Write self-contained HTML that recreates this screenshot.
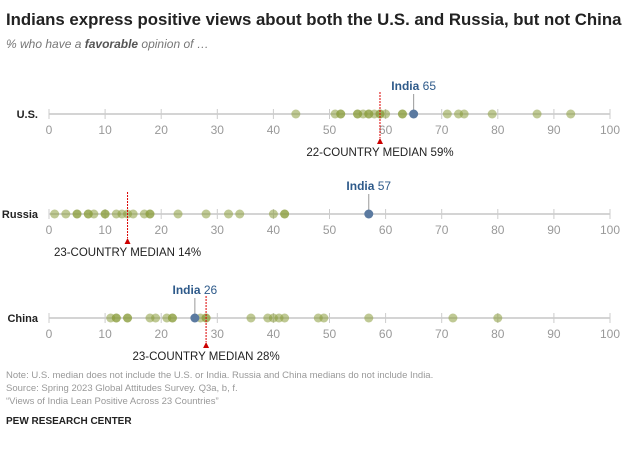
<!DOCTYPE html>
<html><head><meta charset="utf-8"><style>
body{margin:0;background:#fff;font-family:"Liberation Sans",sans-serif}
svg text{font-family:"Liberation Sans",sans-serif}
</style></head><body>
<svg id="c" width="640" height="444">
<text x="6" y="25" font-size="16.8" font-weight="bold" fill="#222">Indians express positive views about both the U.S. and Russia, but not China</text>
<text x="6" y="48" font-size="12" font-style="italic" fill="#777">% who have a <tspan font-weight="bold" fill="#555">favorable</tspan> opinion of …</text>
<g id="rows"></g>
<text x="6" y="378" font-size="9.5" fill="#999">Note: U.S. median does not include the U.S. or India. Russia and China medians do not include India.</text>
<text x="6" y="391" font-size="9.5" fill="#999">Source: Spring 2023 Global Attitudes Survey. Q3a, b, f.</text>
<text x="6" y="404" font-size="9.5" fill="#999">“Views of India Lean Positive Across 23 Countries”</text>
<text x="6" y="424" font-size="10" font-weight="bold" fill="#222">PEW RESEARCH CENTER</text>
</svg>
<script>
const rowNames=["U.S.","Russia","China"];
const usVals=[44,51,52,52,55,55,56,57,57,58,59,59,60,63,63,71,73,74,79,87,93];
const ruVals=[1,3,5,5,7,7,8,10,10,12,13,14,15,17,18,18,23,28,32,34,40,42,42];
const cnVals=[11,12,12,14,14,18,19,21,22,22,27,28,28,36,39,40,41,42,48,49,57,72,80];
const indiaVals=[65,57,26];
const medians=[59,14,28];
const medianLabels=["22-COUNTRY MEDIAN 59%","23-COUNTRY MEDIAN 14%","23-COUNTRY MEDIAN 28%"];
const ticks=[0,10,20,30,40,50,60,70,80,90,100];
const allVals=[usVals,ruVals,cnVals];
const rowY=[114,214,318];
const X=v=>49+v*5.61;
const NS="http://www.w3.org/2000/svg";
const g=document.getElementById('rows');
function mk(t,a,p){const e=document.createElementNS(NS,t);for(const k in a)e.setAttribute(k,a[k]);(p||g).appendChild(e);return e;}
rowNames.forEach((n,i)=>{
  const y=rowY[i];
  const grp=mk('g',{});
  
  
  const lab=mk('text',{x:38,y:y+4,'font-size':11,'font-weight':'bold','text-anchor':'end',fill:'#222'},grp);lab.textContent=n;
  
  
  mk('line',{x1:X(0),x2:X(100),y1:y,y2:y,stroke:'#d4d4d4','stroke-width':2},grp);
  ticks.forEach(t=>{
    mk('line',{x1:X(t),x2:X(t),y1:y-5,y2:y+5,stroke:'#ccc','stroke-width':1},grp);
    const tl=mk('text',{x:X(t),y:y+20,'font-size':12,'text-anchor':'middle',fill:'#999'},grp);tl.textContent=t;
    
    
  });
  allVals[i].forEach(v=>{
    const c=mk('circle',{cx:X(v),cy:y,r:4.5,fill:'#8a9c3c','fill-opacity':0.55},grp);
    
    
  });
  const iv=indiaVals[i];
  mk('line',{x1:X(iv),x2:X(iv),y1:y-20,y2:y,stroke:'#999','stroke-width':1},grp);
  const ic=mk('circle',{cx:X(iv),cy:y,r:4.5,fill:'#5b7aa0'},grp);
  
  
  const it=mk('text',{x:X(iv),y:y-24,'font-size':12,'text-anchor':'middle',fill:'#2e5a8a'},grp);
  it.innerHTML='<tspan font-weight="bold">India</tspan> '+iv;
  
  
  const m=medians[i];
  mk('line',{x1:X(m),x2:X(m),y1:y-22,y2:y+24,stroke:'#d00','stroke-width':1,'stroke-dasharray':'2,1'},grp);
  mk('path',{d:`M${X(m)-3},${y+30}L${X(m)+3},${y+30}L${X(m)},${y+24}Z`,fill:'#c00'},grp);
  const ml=mk('text',{x:X(m),y:y+42,'font-size':11.5,'text-anchor':'middle',fill:'#222'},grp);ml.textContent=medianLabels[i];
  
  
});
</script>
</body></html>
